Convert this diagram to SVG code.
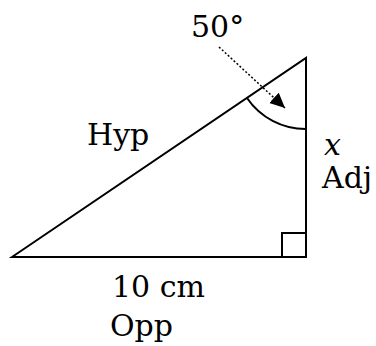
<svg xmlns="http://www.w3.org/2000/svg" width="376" height="346" viewBox="0 0 376 346">
<style>
.t{font-family:"DejaVu Serif",serif;font-size:30px;fill:#000}
.s{fill:none;stroke:#000;stroke-width:2}
</style>
<defs>
<marker id="ah" viewBox="0 0 15 15" refX="15" refY="7.5" markerWidth="15" markerHeight="15" markerUnits="userSpaceOnUse" orient="auto">
<path d="M0,0.5 L15,7.5 L0,14.5 z" fill="#000"/>
</marker>
</defs>
<rect width="376" height="346" fill="#fff"/>
<g id="triangle">
<path class="s" d="M12,257 L306,58 L306,257 Z" stroke-linejoin="miter"/>
<path class="s" d="M282,257 L282,233 L306,233" stroke-width="1.5"/>
<path class="s" d="M247,98 A71,71 0 0 0 306,129" stroke-width="1.7"/>
</g>
<g id="connectors">
<path d="M219,47 L285,108" fill="none" stroke="#000" stroke-width="1.5" stroke-dasharray="2,2" marker-end="url(#ah)"/>
</g>
<g id="labels">
<text class="t" x="191" y="37">50°</text>
<text class="t" x="87" y="145">Hyp</text>
<text class="t" x="324" y="155" font-style="italic" font-size="27">x</text>
<text class="t" x="322" y="188">Adj</text>
<text class="t" x="112" y="297">10 cm</text>
<text class="t" x="110" y="336">Opp</text>
</g>
</svg>
